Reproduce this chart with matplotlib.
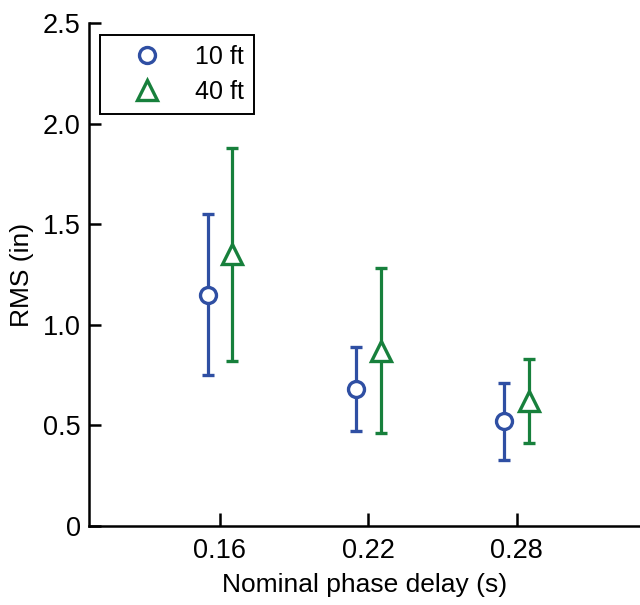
import matplotlib.pyplot as plt
from matplotlib.lines import Line2D
import numpy as np

plt.rcParams['font.family'] = ['Liberation Sans', 'DejaVu Sans']

# Data
delays = np.array([0.16, 0.22, 0.28])
tick_labels = ['0.16', '0.22', '0.28']
rms_10ft = np.array([1.15, 0.68, 0.52])
err_10ft = np.array([0.40, 0.21, 0.19])
rms_40ft = np.array([1.35, 0.87, 0.62])
err_40ft = np.array([0.53, 0.41, 0.21])

blue = '#2f4fa3'
green = '#17803c'
offset = 0.005

fig = plt.figure(figsize=(6.4, 6.05), dpi=100)
ax = fig.add_axes([0.139, 0.1306, 0.861, 0.8314])

ax.errorbar(delays - offset, rms_10ft, yerr=err_10ft, fmt='o', color=blue,
            mfc='white', mec=blue, ms=11.5, mew=2.4, elinewidth=2.3,
            capsize=4, capthick=2.3, zorder=3)
ax.errorbar(delays + offset, rms_40ft, yerr=err_40ft, fmt='^', color=green,
            mfc='white', mec=green, ms=14, mew=2.4, elinewidth=2.3,
            capsize=4, capthick=2.3, zorder=3)

ax.set_xlim(0.1070, 0.3299)
ax.set_ylim(0, 2.5)
ax.set_xticks(delays)
ax.set_xticklabels(tick_labels)
ax.set_yticks([0, 0.5, 1.0, 1.5, 2.0, 2.5])
ax.set_yticklabels(['0', '0.5', '1.0', '1.5', '2.0', '2.5'])

for side in ['top', 'right']:
    ax.spines[side].set_visible(False)
for side in ['left', 'bottom']:
    ax.spines[side].set_linewidth(1.8)
ax.tick_params(axis='y', direction='in', length=8.6, width=1.8, labelsize=19.5, pad=6)
ax.tick_params(axis='x', direction='in', length=9.4, width=1.8, labelsize=19.5, pad=9)

ax.set_xlabel('Nominal phase delay (s)', fontsize=19, labelpad=6)
ax.set_ylabel('RMS (in)', fontsize=19, labelpad=6)

# marker-only legend handles
handles = [Line2D([], [], ls='none', marker='o', ms=11.5, mfc='white', mec=blue, mew=2.4),
           Line2D([], [], ls='none', marker='^', ms=14, mfc='white', mec=green, mew=2.4)]
leg = ax.legend(handles, ['10 ft', '40 ft'], loc='upper left',
                bbox_to_anchor=(0.0195, 0.977), fontsize=18,
                frameon=True, fancybox=False, edgecolor='black', framealpha=1,
                borderpad=0.4, labelspacing=0.45, handlelength=3.0,
                handletextpad=0.4, borderaxespad=0)
leg.get_frame().set_linewidth(1.4)

plt.savefig('out.png', dpi=100)
